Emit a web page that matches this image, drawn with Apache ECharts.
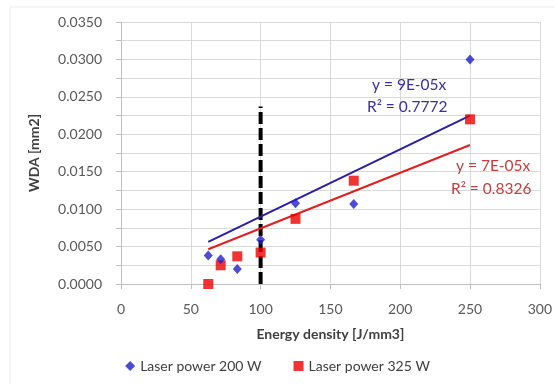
<!DOCTYPE html>
<html>
<head>
<meta charset="utf-8">
<script src="https://cdn.jsdelivr.net/npm/echarts@6/dist/echarts.min.js"></script>
<style>html,body{margin:0;padding:0;background:#fff;}#c{width:555px;height:384px;}</style>
</head>
<body>
<div id="c"></div>
<script>
// ---- data ----
const energyDensity = [62.5, 71.4, 83.3, 100, 125, 166.7, 250];
const wda200 = [0.0038, 0.0033, 0.0020, 0.0059, 0.0108, 0.0107, 0.0300];
const wda325 = [0.0000, 0.0025, 0.0037, 0.0042, 0.0087, 0.0138, 0.0220];
const seriesNames = ['Laser power 200 W', 'Laser power 325 W'];
const trendLabels200 = ['y = 9E-05x', 'R² = 0.7772'];
const trendLabels325 = ['y = 7E-05x', 'R² = 0.8326'];
const thresholdX = [100, 100];
const thresholdY = [0, 0.0237];
const yTicks = [0, 0.035, 0.005];
const xTicks = [0, 300, 50];

// least squares fit through origin
function slopeThroughOrigin(xs, ys) {
  let sxy = 0, sxx = 0;
  for (let i = 0; i < xs.length; i++) { sxy += xs[i] * ys[i]; sxx += xs[i] * xs[i]; }
  return sxy / sxx;
}
function trend(xs, ys) {
  const k = slopeThroughOrigin(xs, ys);
  const lo = Math.min(...xs), hi = Math.max(...xs);
  return [[lo, k * lo], [hi, k * hi]];
}
const pairs = (xs, ys) => xs.map((x, i) => [x, ys[i]]);

const FONT = 'Lato';
const chart = echarts.init(document.getElementById('c'));
chart.setOption({
  animation: false,
  backgroundColor: '#ffffff',
  textStyle: { fontFamily: FONT },
  grid: { left: 121, right: 14, top: 22, bottom: 100 },
  xAxis: {
    type: 'value', min: xTicks[0], max: xTicks[1], interval: xTicks[2],
    name: 'Energy density [J/mm3]', nameLocation: 'middle', nameGap: 43,
    nameTextStyle: { fontFamily: FONT, fontSize: 14, fontWeight: 'bold', color: '#404040' },
    axisLine: { show: true, lineStyle: { color: '#bfbfbf' } },
    axisTick: { show: true, length: 5, lineStyle: { color: '#bfbfbf' } },
    axisLabel: { fontFamily: FONT, fontSize: 14, color: '#595959', margin: 18 },
    splitLine: { show: true, lineStyle: { color: '#d9d9d9' } }
  },
  yAxis: {
    type: 'value', min: yTicks[0], max: yTicks[1], interval: yTicks[2],
    name: 'WDA [mm2]', nameLocation: 'middle', nameGap: 80,
    nameTextStyle: { fontFamily: FONT, fontSize: 14, fontWeight: 'bold', color: '#404040' },
    axisLine: { show: true, lineStyle: { color: '#bfbfbf' } },
    axisTick: { show: true, length: 5, lineStyle: { color: '#bfbfbf' } },
    minorTick: { show: true, splitNumber: 2, length: 5, lineStyle: { color: '#bfbfbf' } },
    minorSplitLine: { show: true, lineStyle: { color: '#d9d9d9' } },
    axisLabel: { fontFamily: FONT, fontSize: 14, color: '#595959', margin: 19,
      formatter: v => v.toFixed(4) },
    splitLine: { show: true, lineStyle: { color: '#d9d9d9' } }
  },
  legend: {
    bottom: 6, left: 'center', itemGap: 32, itemWidth: 10, itemHeight: 10,
    textStyle: { fontFamily: FONT, fontSize: 14, color: '#404040' },
    data: [
      { name: seriesNames[0], icon: 'diamond' },
      { name: seriesNames[1], icon: 'rect' }
    ]
  },
  graphic: [
    { type: 'rect', shape: { x: 10, y: 7, width: 700, height: 500 }, style: { fill: 'none', stroke: '#ececec', lineWidth: 1 }, silent: true, z: -1 },
    { type: 'text', z: 100, left: 372, top: 77, style: { text: trendLabels200[0], fill: '#3b2f9f', font: '15.5px Lato' } },
    { type: 'text', z: 100, left: 367, top: 99, style: { text: trendLabels200[1], fill: '#3b2f9f', font: '15.5px Lato' } },
    { type: 'text', z: 100, left: 456, top: 158, style: { text: trendLabels325[0], fill: '#c0403f', font: '15.5px Lato' } },
    { type: 'text', z: 100, left: 451, top: 181, style: { text: trendLabels325[1], fill: '#c0403f', font: '15.5px Lato' } }
  ],
  series: [
    {
      name: 'threshold', type: 'line', data: pairs(thresholdX, thresholdY),
      symbol: 'none', silent: true, z: 1,
      lineStyle: { color: '#000000', width: 4, type: [12, 4] }
    },
    {
      name: 'trend200', type: 'line', data: trend(energyDensity, wda200),
      symbol: 'none', silent: true, z: 2,
      lineStyle: { color: '#2b1fa0', width: 2 }
    },
    {
      name: 'trend325', type: 'line', data: trend(energyDensity, wda325),
      symbol: 'none', silent: true, z: 2,
      lineStyle: { color: '#e0201f', width: 2 }
    },
    {
      name: seriesNames[0], type: 'scatter', data: pairs(energyDensity, wda200),
      symbol: 'diamond', symbolSize: [9, 10], z: 4,
      itemStyle: { color: '#1f1fd0' }
    },
    {
      name: seriesNames[1], type: 'scatter', data: pairs(energyDensity, wda325),
      symbol: 'rect', symbolSize: 10, z: 3,
      itemStyle: { color: '#ee0000' }
    }
  ]
});
</script>
</body>
</html>
